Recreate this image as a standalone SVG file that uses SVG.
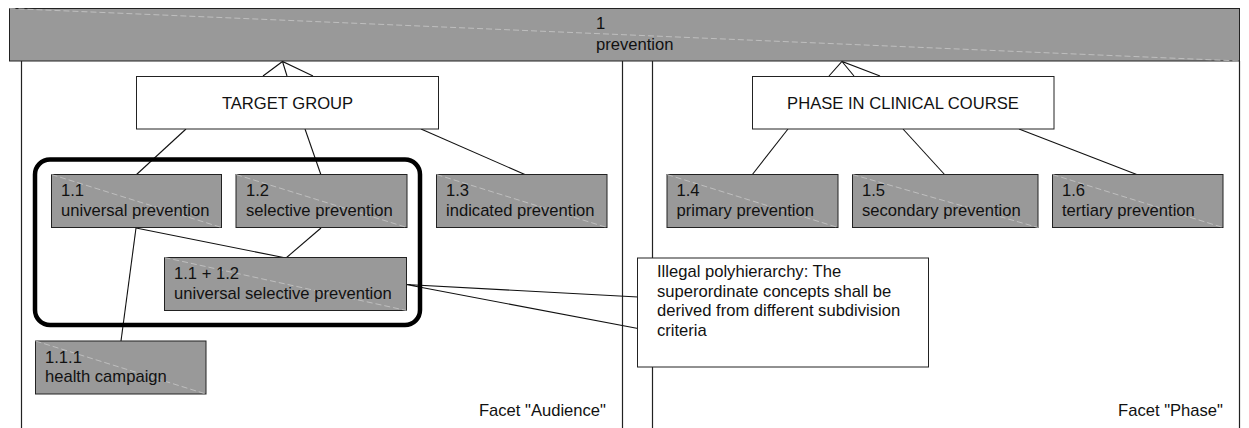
<svg xmlns="http://www.w3.org/2000/svg" width="1249" height="428" viewBox="0 0 1249 428">
  <style>
    text { font-family: "Liberation Sans", Arial, sans-serif; font-size: 16.6px; fill: #111; }
    .concept { fill: #999; stroke: #222; stroke-width: 1; }
    .facet { fill: #fff; stroke: #222; stroke-width: 1; }
    .hatch { stroke: #c8c8c8; stroke-width: 0.8; stroke-dasharray: 6 3; fill: none; }
    .edge { stroke: #111; stroke-width: 1.1; fill: none; }
    .panel { stroke: #222; stroke-width: 1.2; fill: none; }
    .mid { text-anchor: middle; }
    .end { text-anchor: end; }
  </style>

  <!-- facet panels -->
  <g id="panel-audience">
    <path class="panel" d="M21.5,61 V428 M622.5,61 V428"/>
    <text class="end" x="606" y="416">Facet "Audience"</text>
  </g>
  <g id="panel-phase">
    <path class="panel" d="M652.5,61 V428 M1239.5,61 V428"/>
    <text class="end" x="1223" y="416">Facet "Phase"</text>
  </g>

  <!-- connectors -->
  <g id="connectors">
    <!-- generalisation arrowheads into the root -->
    <path class="edge" d="M263,76 L282.5,61.5 L313,76 M282.5,61.5 L287,76"/>
    <path class="edge" d="M829,76 L842,61.5 L880,76 M842,61.5 L854,76"/>
    <!-- TARGET GROUP children -->
    <path class="edge" d="M186,129 L136,175"/>
    <path class="edge" d="M305,129 L321,175"/>
    <path class="edge" d="M421,129 L526,175"/>
    <!-- PHASE children -->
    <path class="edge" d="M788,129 L752,175"/>
    <path class="edge" d="M903,129 L945,175"/>
    <path class="edge" d="M1019,129 L1138,175"/>
    <!-- polyhierarchy -->
    <path class="edge" d="M136,228 L286,258"/>
    <path class="edge" d="M321,228 L286,258"/>
    <path class="edge" d="M136,228 L121,341"/>
    <!-- callout pointer -->
    <path class="edge" d="M406,284.5 L638,297 M406,284.5 L638,328.5"/>
  </g>

  <!-- root concept -->
  <g id="node-1">
    <rect class="concept" x="9.5" y="8.5" width="1230" height="52.5"/>
    <line class="hatch" x1="9.5" y1="8.5" x2="1239.5" y2="61"/>
    <text x="596" y="28.5">1</text>
    <text x="596" y="50">prevention</text>
  </g>

  <!-- subdivision criteria -->
  <g id="node-target-group">
    <rect class="facet" x="136.5" y="76.5" width="302" height="52.5"/>
    <text class="mid" x="287.5" y="108.5">TARGET GROUP</text>
  </g>
  <g id="node-phase">
    <rect class="facet" x="752.5" y="76.5" width="301.5" height="52.5"/>
    <text class="mid" x="903" y="108.5">PHASE IN CLINICAL COURSE</text>
  </g>

  <!-- highlighted polyhierarchy -->
  <g id="polyhierarchy-frame">
    <rect x="35" y="159.5" width="385" height="165.5" rx="15" ry="15" fill="none" stroke="#000" stroke-width="4.5"/>
  </g>

  <g id="node-1-1">
    <rect class="concept" x="51.5" y="174.5" width="170" height="53"/>
    <line class="hatch" x1="51.5" y1="174.5" x2="221.5" y2="227.5"/>
    <text x="61" y="196">1.1</text>
    <text x="61" y="215.5">universal prevention</text>
  </g>
  <g id="node-1-2">
    <rect class="concept" x="236" y="174.5" width="171" height="53"/>
    <line class="hatch" x1="236" y1="174.5" x2="407" y2="227.5"/>
    <text x="246" y="196">1.2</text>
    <text x="246" y="215.5">selective prevention</text>
  </g>
  <g id="node-1-3">
    <rect class="concept" x="436.5" y="174.5" width="170.5" height="53"/>
    <line class="hatch" x1="436.5" y1="174.5" x2="607" y2="227.5"/>
    <text x="446" y="196">1.3</text>
    <text x="446" y="215.5">indicated prevention</text>
  </g>
  <g id="node-1-4">
    <rect class="concept" x="667" y="174.5" width="171" height="53"/>
    <line class="hatch" x1="667" y1="174.5" x2="838" y2="227.5"/>
    <text x="676.5" y="196">1.4</text>
    <text x="676.5" y="215.5">primary prevention</text>
  </g>
  <g id="node-1-5">
    <rect class="concept" x="852.5" y="174.5" width="185.5" height="53"/>
    <line class="hatch" x1="852.5" y1="174.5" x2="1038" y2="227.5"/>
    <text x="862" y="196">1.5</text>
    <text x="862" y="215.5">secondary prevention</text>
  </g>
  <g id="node-1-6">
    <rect class="concept" x="1052.5" y="174.5" width="170.5" height="53"/>
    <line class="hatch" x1="1052.5" y1="174.5" x2="1223" y2="227.5"/>
    <text x="1062" y="196">1.6</text>
    <text x="1062" y="215.5">tertiary prevention</text>
  </g>
  <g id="node-1-1-plus-1-2">
    <rect class="concept" x="164.5" y="257.5" width="242" height="53"/>
    <line class="hatch" x1="164.5" y1="257.5" x2="406.5" y2="310.5"/>
    <text x="174" y="279">1.1 + 1.2</text>
    <text x="174" y="298.5">universal selective prevention</text>
  </g>
  <g id="node-1-1-1">
    <rect class="concept" x="35.5" y="341" width="170.5" height="53"/>
    <line class="hatch" x1="35.5" y1="341" x2="206" y2="394"/>
    <text x="45" y="362.5">1.1.1</text>
    <text x="45" y="382">health campaign</text>
  </g>

  <!-- note -->
  <g id="note-polyhierarchy">
    <rect class="facet" x="637.5" y="258" width="291" height="109"/>
    <text x="657" y="277">Illegal polyhierarchy: The</text>
    <text x="657" y="296.5">superordinate concepts shall be</text>
    <text x="657" y="316">derived from different subdivision</text>
    <text x="657" y="335.5">criteria</text>
  </g>
</svg>
